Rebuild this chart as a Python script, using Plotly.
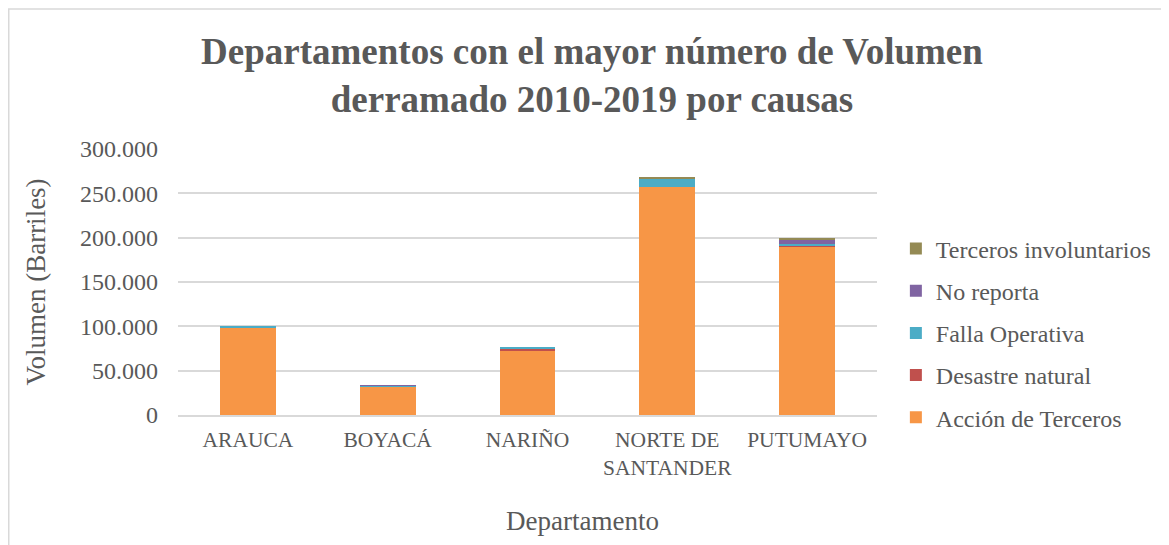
import plotly.graph_objects as go

categories = ["ARAUCA", "BOYACÁ", "NARIÑO", "NORTE DE<br>SANTANDER", "PUTUMAYO"]
accion_terceros = [99000, 31900, 72500, 257500, 190300]
desastre_natural = [0, 0, 3000, 0, 500]
falla_operativa = [500, 1500, 800, 9500, 2500]
no_reporta = [0, 300, 0, 0, 5000]
terceros_involuntarios = [0, 0, 0, 900, 800]

y_ticks = [0, 50000, 100000, 150000, 200000, 250000, 300000]
y_tick_labels = ["0", "50.000", "100.000", "150.000", "200.000", "250.000", "300.000"]

series = [
    ("Acción de Terceros", accion_terceros, "#F79646"),
    ("Desastre natural", desastre_natural, "#C0504D"),
    ("Falla Operativa", falla_operativa, "#4BACC6"),
    ("No reporta", no_reporta, "#8064A2"),
    ("Terceros involuntarios", terceros_involuntarios, "#948A54"),
]

fig = go.Figure()
for i, (name, vals, color) in enumerate(series):
    fig.add_trace(go.Bar(x=categories, y=vals, name=name, legendgroup=name,
                         legendrank=1000 - i,
                         marker=dict(color=color, line=dict(width=0))))

# page has an 8px body margin; figure is sized/positioned to compensate
W, H = 1161, 537
L, T, B = 170, 141, 130
R = W - 869
PW, PH = W - L - R, H - T - B

font_family = "Liberation Serif, Times New Roman, serif"
fig.update_layout(
    barmode="stack",
    bargap=0.6,
    width=W, height=H,
    margin=dict(l=L, r=R, t=T, b=B, autoexpand=False),
    paper_bgcolor="white", plot_bgcolor="white",
    font=dict(family=font_family, color="#595959", size=24),
    title=dict(text="<b>Departamentos con el mayor número de Volumen<br>derramado 2010-2019 por causas</b>",
               x=0.503, xanchor="center", y=0.896, yanchor="top",
               font=dict(size=37, color="#595959", family=font_family)),
    legend=dict(x=1.027, xanchor="left", y=0.709, yanchor="top",
                traceorder="grouped", tracegroupgap=8,
                font=dict(size=24, color="#595959", family=font_family),
                itemwidth=30, bgcolor="rgba(0,0,0,0)"),
    showlegend=True,
)
fig.update_yaxes(range=[0, 300000], tickvals=y_ticks, ticktext=y_tick_labels,
                 automargin=False,
                 showgrid=True, gridcolor="#d9d9d9", gridwidth=1.5,
                 zeroline=False, showline=False, ticks="", ticklabelstandoff=19,
                 title=dict(text="Volumen (Barriles)", font=dict(size=27, color="#595959"), standoff=26),
                 tickfont=dict(size=24, color="#595959"))
fig.update_xaxes(automargin=False,
                 showline=True, linecolor="#d9d9d9", linewidth=1.5, ticks="",
                 ticklabelstandoff=4,
                 tickfont=dict(size=21.5, color="#595959"))

# x-axis title, centred on the whole chart as in the reference
fig.add_annotation(text="Departamento", xref="paper", yref="paper",
                   x=(582 - 8 - L) / PW, y=(T + PH - 513) / PH,
                   xanchor="center", yanchor="middle", showarrow=False,
                   font=dict(size=27, color="#595959", family=font_family))

# outer chart frame (top and left edges visible)
fig.add_shape(type="rect", xref="paper", yref="paper",
              x0=(0.75 - L) / PW, x1=(W + 40 - L) / PW, y0=-1, y1=1 + (T - 1) / PH,
              line=dict(color="#d9d9d9", width=1.5), fillcolor="rgba(0,0,0,0)", layer="below")

fig.write_html("out.html")
